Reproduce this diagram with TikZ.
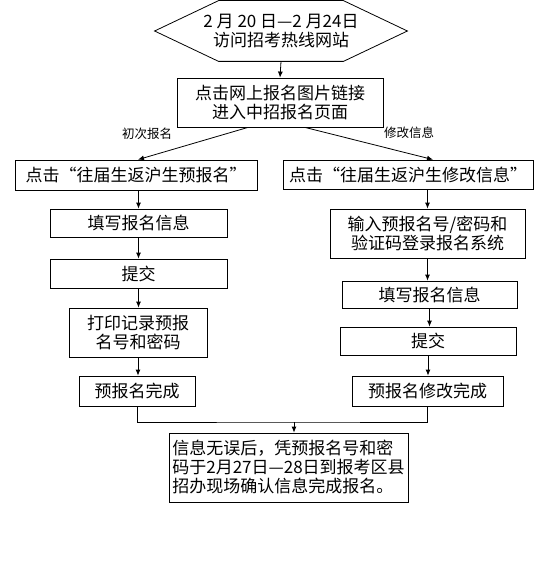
\documentclass[tikz,border=0pt]{standalone}
\usepackage{fontspec}
\newfontfamily\cjk{Noto Sans CJK SC}
\usetikzlibrary{arrows.meta, positioning}

\begin{document}
\begin{tikzpicture}[x=1pt, y=-1pt, line width=0.8pt,
    box/.style={draw, inner sep=0pt, align=center, font=\cjk\fontsize{17}{19}\selectfont},
    tag/.style={inner sep=0pt, font=\cjk\fontsize{12.5}{14}\selectfont},
    arr/.style={-{Latex[length=6pt, width=5pt]}}]
    \useasboundingbox (0,0) rectangle (553,578);

    % Start: visit website (hexagon)
    \node[box, draw=none, minimum width=252pt, minimum height=60pt] (visit) at (281,31)
        {2 月 20 日—2 月24日\\访问招考热线网站};
    \draw (visit.west) -- ([xshift=64pt]visit.north west) -- ([xshift=-64pt]visit.north east)
        -- (visit.east) -- ([xshift=-64pt]visit.south east) -- ([xshift=64pt]visit.south west) -- cycle;
    \node[box, minimum width=206pt, minimum height=49pt] (link) at (280,102.5)
        {点击网上报名图片链接\\进入中招报名页面};

    % Left branch: first registration
    \node[box, minimum width=242pt, minimum height=30pt] (firstreg) at (136,175) {点击“往届生返沪生预报名”};
    \node[box, minimum width=177pt, minimum height=28pt] (lfill) at (138.5,223) {填写报名信息};
    \node[box, minimum width=177pt, minimum height=29pt] (lsubmit) at (138.5,273.5) {提交};
    \node[box, minimum width=138pt, minimum height=49pt] (lprint) at (138,332.5) {打印记录预报\\名号和密码};
    \node[box, minimum width=116pt, minimum height=30pt] (ldone) at (137,391) {预报名完成};

    % Right branch: modify information
    \node[box, minimum width=250pt, minimum height=29pt] (modify) at (408,174.5) {点击“往届生返沪生修改信息”};
    \node[box, minimum width=195pt, minimum height=49pt] (login) at (427.5,233.5) {输入预报名号/密码和\\验证码登录报名系统};
    \node[box, minimum width=175pt, minimum height=27pt] (rfill) at (429.5,294.5) {填写报名信息};
    \node[box, minimum width=176pt, minimum height=28pt] (rsubmit) at (428,341) {提交};
    \node[box, minimum width=151pt, minimum height=30pt] (rdone) at (427.5,391) {预报名修改完成};

    % Final confirmation
    \node[box, align=left, minimum width=239pt, minimum height=69pt] (confirm) at (288.5,467.5)
        {信息无误后，凭预报名号和密\\码于2月27日—28日到报考区县\\招办现场确认信息完成报名。};

    % Branch labels
    \node[tag] (firstlbl) at (147,134) {初次报名};
    \node[tag] (modlbl) at (409,133) {修改信息};

    \coordinate (join) at (294,422);

    \draw[arr] (visit.south) -- (link.north);
    \draw[arr] ([xshift=-32pt]link.south) -- ([xshift=2pt]firstreg.north);
    \draw[arr] ([xshift=25pt]link.south) -- ([xshift=25pt]modify.north);

    % Left chain
    \draw[arr] (lfill.north |- firstreg.south) -- (lfill.north);
    \draw[arr] (lfill) -- (lsubmit);
    \draw[arr] (lsubmit.south) -- (lsubmit.south |- lprint.north);
    \draw[arr] (lprint.south) -- (lprint.south |- ldone.north);

    % Right chain
    \draw[arr] (login.north |- modify.south) -- (login.north);
    \draw[arr] (login.south) -- (login.south |- rfill.north);
    \draw[arr] (rfill.south) -- (rfill.south |- rsubmit.north);
    \draw[arr] (rsubmit.south) -- (rsubmit.south |- rdone.north);

    % Merge
    \draw (ldone.south) |- (join) -| (rdone.south);
    \draw[arr] (join) -- (join |- confirm.north);
\end{tikzpicture}
\end{document}
